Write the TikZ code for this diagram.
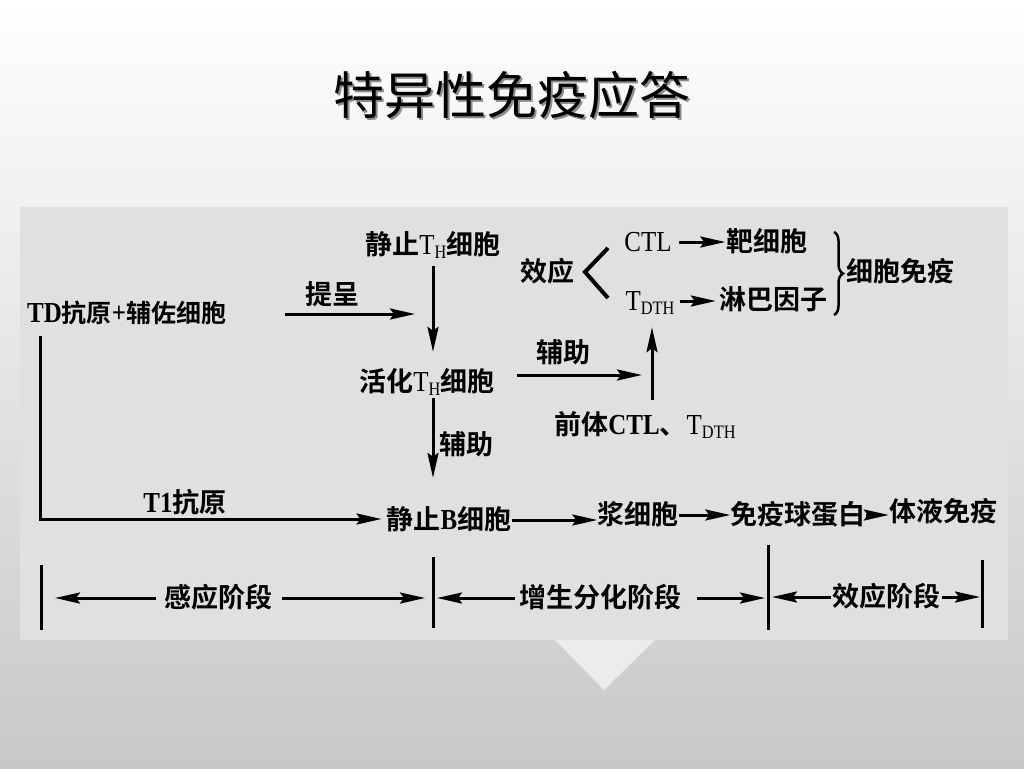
\documentclass[tikz,border=0pt]{standalone}
\usepackage{fontspec}
\setmainfont{Liberation Serif}[FakeStretch=0.86]
\newfontfamily\cjk{Noto Sans CJK SC Bold}
\newfontfamily\cjkr{Noto Sans CJK SC}
\usetikzlibrary{arrows.meta,decorations.pathreplacing,calc}
\newcommand\zh[1]{{\cjk #1}}
\newcommand\la[1]{{\fontsize{29pt}{30pt}\selectfont #1}}
\newcommand\lowsub[1]{\raisebox{-4pt}{\fontsize{19pt}{19pt}\selectfont #1}}
\definecolor{bgbot}{RGB}{200,200,200}
\definecolor{panel}{RGB}{224,224,224}
\definecolor{tri}{RGB}{236,236,236}
\begin{document}
\begin{tikzpicture}[x=1pt,y=-1pt,
  txt/.style={inner sep=0pt,text height=22pt,text depth=4pt,font=\fontsize{27pt}{30pt}\selectfont},
  arr/.style={line width=3pt,-{Stealth[length=25pt,width=11pt,inset=4pt]}},
  ln/.style={line width=3pt}]
\useasboundingbox (0,0) rectangle (1024,768);
\shade[top color=white,bottom color=bgbot] (0,0) rectangle (1024,768);
\fill[panel] (20,207) rectangle (1008,640);
\fill[tri] (555,640) -- (655,640) -- (604,690) -- cycle;
% title
\node[inner sep=0pt,font=\cjkr\fontsize{51pt}{56pt}\selectfont,text=black!45] (tshadow) at (514,97) {特异性免疫应答};
\node[inner sep=0pt,font=\cjkr\fontsize{51pt}{56pt}\selectfont,text=black] (title) at (512,95) {特异性免疫应答};
% nodes
\node[txt,anchor=west,font=\fontsize{25pt}{30pt}\selectfont] (td) at (27,313) {\textbf{\la{TD}}\zh{抗原}\textbf{\la{+}}\zh{辅佐细胞}};
\node[txt] (jzth) at (433,245) {\zh{静止}\la{T}\lowsub{H}\zh{细胞}};
\node[txt] (hhth) at (427,382) {\zh{活化}\la{T}\lowsub{H}\zh{细胞}};
\node[txt] (jzb) at (449,520) {\zh{静止}\textbf{\la{B}}\zh{细胞}};
\node[txt] (xiaoy) at (547,272) {\zh{效应}};
\node[txt] (ctl) at (648,242) {\la{CTL}};
\node[txt] (bx) at (767,242) {\zh{靶细胞}};
\node[txt] (tdth) at (650,301) {\la{T}\lowsub{DTH}};
\node[txt] (lb) at (773,300) {\zh{淋巴因子}};
\node[txt] (xbmy) at (900,272) {\zh{细胞免疫}};
\node[txt] (qt) at (645,425) {\zh{前体}\textbf{\la{CTL}}\zh{、}\la{T}\lowsub{DTH}};
\node[txt] (jxb) at (638,515) {\zh{浆细胞}};
\node[txt] (myq) at (798,515) {\zh{免疫球蛋白}};
\node[txt] (ty) at (943,512) {\zh{体液免疫}};
% labels
\node[txt] (tc) at (332,295) {\zh{提呈}};
\node[txt] (fz1) at (466,445) {\zh{辅助}};
\node[txt] (fz2) at (563,353) {\zh{辅助}};
\node[txt] (t1) at (185,503) {\textbf{\la{T1}}\zh{抗原}};
\node[txt] (gy) at (218,598) {\zh{感应阶段}};
\node[txt] (zs) at (600,598) {\zh{增生分化阶段}};
\node[txt] (xy) at (886,597) {\zh{效应阶段}};
% coordinates
\coordinate (ps) at (285,314);
\coordinate (pt) at (415,314);
\coordinate (vx) at (433,0);
\coordinate (vx2) at (652,0);
\coordinate (corner) at (40,519);
\coordinate (fzt) at (642,375);
\coordinate (b1t) at (41,565);  \coordinate (b1b) at (41,630);
\coordinate (b2t) at (433,557); \coordinate (b2b) at (433,628);
\coordinate (b3t) at (768,545); \coordinate (b3b) at (768,630);
\coordinate (b4t) at (982,560); \coordinate (b4b) at (982,628);
% connectors
\draw[arr] (ps) -- (pt);
\draw[arr,shorten <=8pt,shorten >=17pt] (jzth.south -| vx) -- (hhth.north -| vx);
\draw[arr,shorten <=3pt,shorten >=29pt] (hhth.south -| vx) -- (jzb.north -| vx);
\draw[arr,shorten <=10pt,shorten >=5pt] (td.south -| corner) -- (corner) -- (jzb.west |- corner);
\draw[arr,shorten <=22pt] (hhth.east |- fzt) -- (fzt);
\draw[arr,shorten <=12pt,shorten >=13pt] (qt.north -| vx2) -- (tdth.south -| vx2);
\draw[arr,shorten <=7pt,shorten >=1pt] (ctl.east) -- (bx.west);
\draw[arr,shorten <=5pt,shorten >=3pt] (tdth.east) -- (lb.west |- tdth.east);
\draw[line width=4pt,line join=miter] (608,248) -- (585,272) -- (608,298);
\draw[line width=2.5pt,decorate,decoration={brace,amplitude=9pt}] (834,232) -- (834,315);
\draw[arr] (jzb.east) -- (jxb.west |- jzb.east);
\draw[arr] (jxb.east) -- (myq.west);
\draw[arr] (myq.east) -- (ty.west |- myq.east);
% stage bars
\draw[ln] (b1t) -- (b1b);
\draw[ln] (b2t) -- (b2b);
\draw[ln] (b3t) -- (b3b);
\draw[ln] (b4t) -- (b4b);
\draw[arr,shorten <=8pt,shorten >=14pt] (gy.west) -- (b1t |- gy.west);
\draw[arr,shorten <=10pt,shorten >=8pt] (gy.east) -- (b2t |- gy.east);
\draw[arr,shorten <=4pt,shorten >=4pt] (zs.west) -- (b2t |- zs.west);
\draw[arr,shorten <=16pt,shorten >=3pt] (zs.east) -- (b3t |- zs.east);
\draw[arr,shorten <=1pt,shorten >=4pt] (xy.west) -- (b3t |- xy.west);
\draw[arr,shorten <=2pt,shorten >=2pt] (xy.east) -- (b4t |- xy.east);
\end{tikzpicture}
\end{document}
